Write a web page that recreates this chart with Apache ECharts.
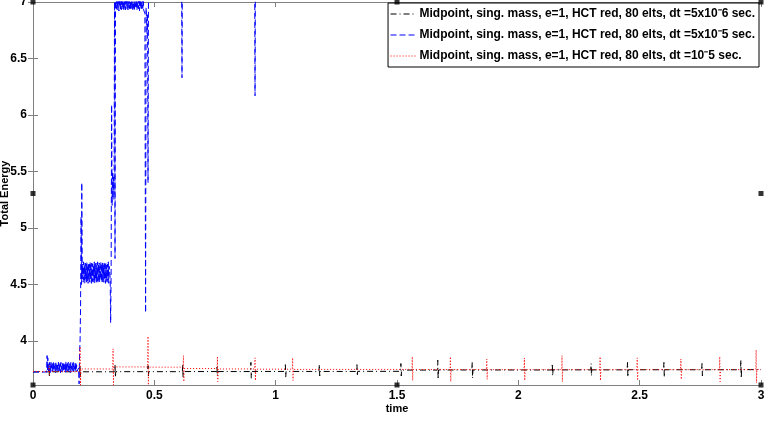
<!DOCTYPE html>
<html>
<head>
<meta charset="utf-8">
<script src="https://cdn.jsdelivr.net/npm/echarts@6/dist/echarts.min.js"></script>
<style>
  html, body { margin: 0; padding: 0; background: #fff; }
  #chart { width: 768px; height: 424px; }
</style>
</head>
<body>
<div id="chart"></div>
<script>
// series names
var names = [
  'Midpoint, sing. mass, e=1, HCT red, 80 elts, dt =5x10\u207B6 sec.',
  'Midpoint, sing. mass, e=1, HCT red, 80 elts, dt =5x10\u207B5 sec.',
  'Midpoint, sing. mass, e=1, HCT red, 80 elts, dt =10\u207B5 sec.'
];
var yTicks = [4, 4.5, 5, 5.5, 6, 6.5, 7];

// dt = 5e-6 : flat line with small spikes
var blackSpikeT  = [0.066, 0.194, 0.338, 0.474, 0.617, 0.758, 0.898, 1.04, 1.18, 1.335, 1.516, 1.668, 1.81, 2.14, 2.30, 2.45, 2.60, 2.757, 2.917];
var blackSpikeHi = [3.78, 3.78, 3.79, 3.78, 3.79, 3.78, 3.81, 3.79, 3.79, 3.79, 3.80, 3.83, 3.81, 3.80, 3.80, 3.81, 3.81, 3.80, 3.83];
var blackSpikeLo = [3.69, 3.68, 3.68, 3.69, 3.68, 3.69, 3.67, 3.68, 3.69, 3.69, 3.69, 3.66, 3.67, 3.69, 3.69, 3.68, 3.68, 3.69, 3.67];
var blackLevel   = [3.726, 3.727, 3.727, 3.728, 3.728, 3.729, 3.729, 3.73, 3.73, 3.73, 3.731, 3.742, 3.743, 3.743, 3.744, 3.744, 3.745, 3.745, 3.745, 3.746];

// dt = 1e-5 : dotted line with taller spikes
var redSpikeT  = [0.066, 0.194, 0.33, 0.474, 0.62, 0.76, 0.915, 1.07, 1.563, 1.72, 1.87, 2.025, 2.18, 2.337, 2.49, 2.67, 2.83, 2.98];
var redSpikeHi = [3.78, 3.95, 3.93, 4.04, 3.87, 3.86, 3.85, 3.85, 3.86, 3.86, 3.84, 3.85, 3.87, 3.86, 3.85, 3.84, 3.86, 3.92];
var redSpikeLo = [3.70, 3.61, 3.61, 3.61, 3.64, 3.64, 3.65, 3.65, 3.65, 3.64, 3.66, 3.65, 3.64, 3.65, 3.65, 3.66, 3.64, 3.63];
var redLevel   = [3.73, 3.73, 3.752, 3.77, 3.768, 3.756, 3.752, 3.75, 3.748, 3.747, 3.747, 3.746, 3.746, 3.746, 3.746, 3.746, 3.746, 3.746, 3.746];

// dt = 5e-5 : unstable run, noisy plateaus then off the top
var blueLead = [[0, 3.725], [0.056, 3.725], [0.058, 3.87], [0.0595, 3.74], [0.061, 3.85], [0.0625, 3.73]];
var band1Start = 0.064, band1Step = 0.0017;
var band1 = [3.79, 3.73, 3.81, 3.74, 3.80, 3.72, 3.81, 3.75, 3.79, 3.73, 3.80, 3.74, 3.82, 3.73, 3.78, 3.75, 3.80, 3.72,
             3.81, 3.74, 3.79, 3.73, 3.80, 3.75, 3.81, 3.73, 3.79, 3.74, 3.80, 3.72, 3.81, 3.75, 3.78, 3.73, 3.80, 3.74,
             3.81, 3.73, 3.79, 3.75, 3.80, 3.72, 3.82, 3.74, 3.79, 3.73, 3.80, 3.75, 3.81, 3.73, 3.78, 3.74, 3.80, 3.72,
             3.81, 3.75, 3.79, 3.73, 3.80, 3.74, 3.81, 3.73, 3.79, 3.75, 3.80, 3.73, 3.81, 3.74, 3.79, 3.73];
var blueRise = [[0.188, 3.76], [0.190, 3.62], [0.192, 3.9], [0.194, 4.0], [0.196, 4.3], [0.198, 5.1], [0.200, 4.5], [0.201, 5.4], [0.203, 4.55]];
var band2Start = 0.205, band2Step = 0.0017;
var band2 = [4.68, 4.52, 4.70, 4.54, 4.67, 4.51, 4.69, 4.55, 4.68, 4.52, 4.70, 4.53, 4.66, 4.51, 4.69, 4.54, 4.68, 4.52,
             4.70, 4.55, 4.67, 4.51, 4.69, 4.53, 4.68, 4.52, 4.66, 4.54, 4.70, 4.51, 4.68, 4.55, 4.69, 4.52, 4.67, 4.53,
             4.70, 4.51, 4.68, 4.54, 4.69, 4.52, 4.66, 4.55, 4.70, 4.53, 4.68, 4.51, 4.69, 4.54, 4.67, 4.52, 4.70, 4.55,
             4.68, 4.51, 4.69, 4.53, 4.67, 4.52, 4.68, 4.54, 4.70, 4.51, 4.66];
var blueJump = [[0.318, 4.56], [0.320, 4.16], [0.322, 4.62], [0.324, 6.09], [0.326, 5.2], [0.328, 5.5], [0.330, 5.25],
                [0.332, 5.45], [0.334, 5.3], [0.336, 7.0], [0.338, 4.73], [0.340, 7.02]];
var band3Start = 0.342, band3Step = 0.0017;
var band3 = [7.08, 6.94, 7.10, 6.93, 7.06, 6.95, 7.09, 6.92, 7.07, 6.96, 7.10, 6.94, 7.05, 6.93, 7.08, 6.95, 7.09, 6.94,
             7.06, 6.92, 7.10, 6.95, 7.07, 6.93, 7.08, 6.96, 7.09, 6.94, 7.05, 6.93, 7.10, 6.95, 7.07, 6.94, 7.08, 6.93,
             7.09, 6.95, 7.06, 6.94, 7.10, 6.92, 7.08, 6.95, 7.07, 6.93, 7.09, 6.96, 7.05, 6.94, 7.10, 6.93, 7.08, 6.95,
             7.06, 6.94, 7.09, 6.92, 7.07, 6.95, 7.10, 6.93, 7.08, 6.94, 7.06, 6.95, 7.09, 6.93];
var blueTail = [[0.461, 6.9], [0.464, 4.25], [0.466, 6.95], [0.468, 6.85], [0.470, 6.72], [0.472, 6.9], [0.474, 5.40],
                [0.476, 7.2], [0.55, 7.6], [0.612, 7.5], [0.614, 6.33], [0.616, 7.5], [0.913, 7.6], [0.915, 6.17],
                [0.917, 7.6], [3.0, 8.0]];

// figure edit handles (corners and mid-sides of the axes box)
var handleT = [0, 1.5, 3, 0, 3, 0, 1.5, 3];
var handleE = [3.61, 3.61, 3.61, 5.305, 5.305, 7, 7, 7];

function spikeLine(ts, hi, lo, lv) {
  var d = 0.0015;
  var pts = [[0, lv[0]]];
  ts.forEach(function (t, i) {
    pts.push([t - d, lv[i]], [t, hi[i]], [t + d, lo[i]], [t + 2 * d, lv[i + 1]]);
  });
  pts.push([3, lv[lv.length - 1]]);
  return pts;
}

function band(t0, step, vals) {
  return vals.map(function (v, i) { return [t0 + i * step, v]; });
}

var blackData = spikeLine(blackSpikeT, blackSpikeHi, blackSpikeLo, blackLevel);
var redData = spikeLine(redSpikeT, redSpikeHi, redSpikeLo, redLevel);
var blueData = [].concat(blueLead, band(band1Start, band1Step, band1), blueRise,
  band(band2Start, band2Step, band2), blueJump, band(band3Start, band3Step, band3), blueTail);
var handleData = handleT.map(function (t, i) { return [t, handleE[i]]; });

var font = "'Liberation Sans', Arial, sans-serif";
var axisGray = '#7f7f7f';

var myChart = echarts.init(document.getElementById('chart'));
var option = {
  animation: false,
  backgroundColor: '#fff',
  grid: { left: 33, right: 7, top: 2, bottom: 39, outerBoundsMode: 'none', containLabel: false },
  legend: {
    data: names,
    orient: 'vertical',
    right: 9,
    top: 3,
    backgroundColor: '#fff',
    borderColor: '#000',
    borderWidth: 1,
    borderRadius: 0,
    padding: [5, 4, 5, 2],
    itemGap: 9,
    itemWidth: 26,
    itemHeight: 12,
    itemStyle: { opacity: 0 },
    lineStyle: { width: 1 },
    textStyle: { fontFamily: font, fontWeight: 'bold', fontSize: 12, color: '#000', padding: [0, 0, 0, -2] },
    z: 20
  },
  xAxis: [{
    type: 'value', min: 0, max: 3, interval: 0.5,
    name: 'time', nameLocation: 'middle', nameGap: 18, nameMoveOverlap: false,
    nameTextStyle: { fontFamily: font, fontWeight: 'bold', fontSize: 11, color: '#000' },
    axisLine: { lineStyle: { color: axisGray } },
    axisTick: { inside: true, length: 5, lineStyle: { color: axisGray } },
    axisLabel: { fontFamily: font, fontWeight: 'bold', fontSize: 12, color: '#000', margin: 5 },
    splitLine: { show: false }
  }, {
    type: 'value', min: 0, max: 3, interval: 0.5, position: 'top',
    axisLine: { lineStyle: { color: axisGray } },
    axisTick: { inside: true, length: 5, lineStyle: { color: axisGray } },
    axisLabel: { show: false },
    splitLine: { show: false }
  }],
  yAxis: [{
    type: 'value', min: 3.61, max: 7,
    name: 'Total Energy', nameLocation: 'middle', nameGap: 23, nameMoveOverlap: false,
    nameTextStyle: { fontFamily: font, fontWeight: 'bold', fontSize: 11, color: '#000' },
    axisLine: { show: true, lineStyle: { color: axisGray } },
    axisTick: { inside: true, length: 5, customValues: yTicks, lineStyle: { color: axisGray } },
    axisLabel: { fontFamily: font, fontWeight: 'bold', fontSize: 12, color: '#000', margin: 6, customValues: yTicks },
    splitLine: { show: false }
  }, {
    type: 'value', min: 3.61, max: 7, position: 'right',
    axisLine: { show: true, lineStyle: { color: axisGray } },
    axisTick: { inside: true, length: 5, customValues: yTicks, lineStyle: { color: axisGray } },
    axisLabel: { show: false, customValues: yTicks },
    splitLine: { show: false }
  }],
  series: [{
    name: names[0], type: 'line', data: blackData, showSymbol: false, symbol: 'none',
    lineStyle: { color: '#000', width: 1, type: [6, 3, 1, 3] }, itemStyle: { color: '#000' }
  }, {
    name: names[1], type: 'line', data: blueData, showSymbol: false, symbol: 'none',
    lineStyle: { color: '#0000ff', width: 1, type: [6, 3] }, itemStyle: { color: '#0000ff' }
  }, {
    name: names[2], type: 'line', data: redData, showSymbol: false, symbol: 'none',
    lineStyle: { color: '#ff0000', width: 1, type: [1, 2] }, itemStyle: { color: '#ff0000' }
  }, {
    name: 'handles', type: 'scatter', data: handleData, symbol: 'rect', symbolSize: 5,
    itemStyle: { color: '#000' }, clip: false, z: 30, silent: true
  }]
};
myChart.setOption(option);
</script>
</body>
</html>
